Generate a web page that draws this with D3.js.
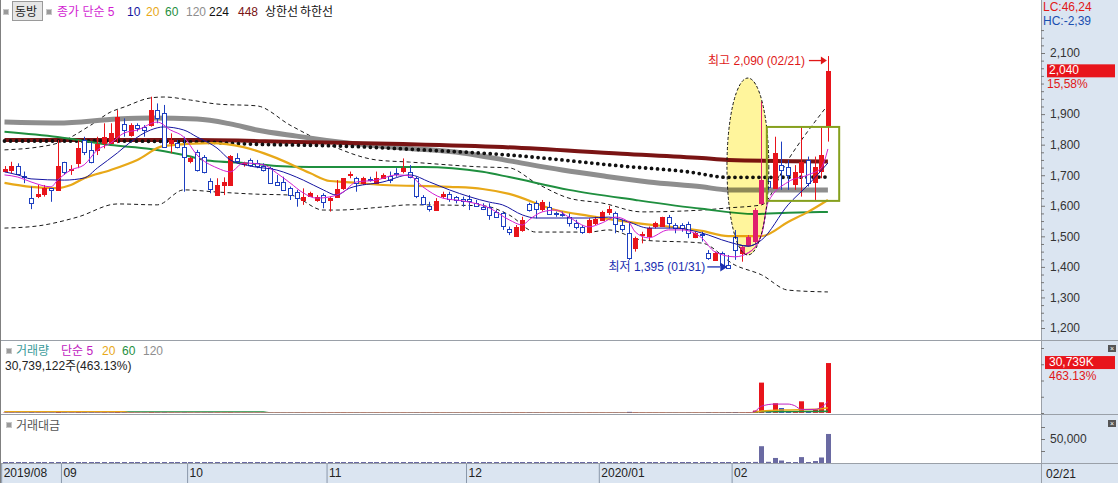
<!DOCTYPE html>
<html><head><meta charset="utf-8">
<script src="https://cdn.jsdelivr.net/npm/d3@7"></script>
<style>
html,body{margin:0;padding:0;background:#fff;overflow:hidden}
svg{display:block;font-family:"Liberation Sans","Noto Sans CJK KR",sans-serif}
</style></head><body><svg id="c" width="1118" height="483"></svg>
<script>
// ---------- DATA ----------
const monthKeys   = ["2019-08","2019-09","2019-10","2019-11","2019-12","2020-01","2020-02"];
const monthLabels = ["2019/08","09","10","11","12","2020/01","02"];
const tradingDays = [
  [20,21,22,23,26,27,28,29,30],
  [2,3,4,5,6,9,10,11,16,17,18,19,20,23,24,25,26,27,30],
  [1,2,4,7,8,10,11,14,15,16,17,18,21,22,23,24,25,28,29,30,31],
  [1,4,5,6,7,8,11,12,13,14,15,18,19,20,21,22,25,26,27,28,29],
  [2,3,4,5,6,9,10,11,12,13,16,17,18,19,20,23,24,26,27,30],
  [2,3,6,7,8,9,10,13,14,15,16,17,20,21,22,23,28,29,30,31],
  [3,4,5,6,7,10,11,12,13,14,17,18,19,20,21]
];
const opens = [1715,1717,1730,1697,1625,1632,1638,1657,1650,
 1742,1718,1739,1815,1783,1780,1805,1805,1826,1867,1832,1864,1859,1864,1913,1903,1805,1805,1793,
 1744,1777,1761,1680,1635,1668,1668,1755,1735,1750,1739,1730,1723,1679,1679,1657,1646,1619,1632,1619,1635,
 1620,1628,1657,1699,1690,1674,1688,1674,1692,1697,1708,1712,1712,1690,1630,1600,1589,1632,1638,1628,1621,
 1621,1610,1597,1597,1581,1575,1523,1501,1521,1606,1610,1589,1597,1575,1574,1564,1543,1530,1515,1543,
 1554,1578,1578,1537,1510,1461,1502,1499,1532,1534,1562,1537,1537,1541,1499,1506,1446,1423,1445,1406,
 1499,1445,1472,1483,1608,1680,1657,1735,1728,1674,1712,1750,1679,1712,1859];
const highs = [1730,1744,1739,1712,1663,1668,1668,1657,1815,
 1744,1733,1815,1826,1810,1826,1870,1870,1913,1886,1870,1870,1864,1957,1935,1930,1837,1815,1826,
 1761,1783,1766,1690,1690,1693,1766,1772,1744,1755,1750,1739,1728,1701,1695,1663,1652,1657,1646,1635,1641,
 1630,1684,1690,1712,1695,1695,1695,1712,1706,1712,1723,1755,1733,1695,1635,1613,1625,1646,1646,1632,1630,
 1635,1619,1608,1608,1586,1581,1532,1537,1564,1610,1617,1619,1613,1581,1581,1575,1554,1537,1559,1564,
 1584,1600,1581,1554,1545,1499,1515,1532,1548,1564,1570,1543,1543,1548,1515,1515,1455,1450,1450,1439,
 1520,1470,1504,1592,1941,1690,1826,1810,1750,1733,1859,1761,1761,1859,2090];
const lows = [1710,1706,1701,1674,1589,1625,1630,1613,1650,
 1701,1701,1723,1766,1739,1766,1788,1805,1805,1826,1826,1843,1826,1859,1870,1793,1772,1788,1646,
 1739,1712,1706,1641,1635,1635,1668,1739,1728,1728,1723,1712,1674,1668,1652,1619,1597,1603,1630,1613,1592,
 1581,1628,1652,1690,1646,1668,1679,1674,1690,1674,1695,1706,1690,1625,1603,1581,1589,1625,1613,1608,1597,
 1586,1597,1586,1554,1564,1521,1504,1499,1515,1581,1559,1581,1570,1564,1564,1532,1523,1508,1510,1537,
 1554,1570,1510,1515,1423,1450,1477,1488,1526,1532,1526,1510,1515,1494,1494,1483,1423,1423,1401,1395,
 1423,1417,1466,1477,1603,1650,1657,1652,1652,1652,1630,1663,1619,1690,1810];
const closes = [1720,1730,1704,1693,1608,1638,1659,1650,1730,
 1708,1722,1788,1777,1744,1801,1826,1837,1892,1848,1864,1854,1848,1913,1886,1793,1815,1793,1761,
 1755,1717,1712,1654,1668,1679,1763,1744,1739,1733,1728,1717,1674,1668,1654,1635,1625,1628,1641,1630,1613,
 1625,1654,1690,1703,1674,1690,1685,1690,1701,1684,1705,1723,1695,1630,1608,1589,1617,1638,1621,1619,1616,
 1613,1600,1589,1570,1564,1532,1512,1530,1554,1586,1589,1613,1575,1572,1572,1543,1530,1515,1554,1556,
 1581,1589,1543,1523,1428,1494,1506,1526,1543,1562,1541,1526,1526,1510,1512,1502,1428,1445,1406,1396,
 1455,1466,1499,1586,1684,1660,1772,1720,1701,1712,1744,1674,1728,1765,2040];
// volume, thousand shares
const volumes = [180,150,160,140,300,200,170,150,600,
 250,200,400,300,250,220,280,260,500,300,200,150,160,450,300,350,200,150,280,
 150,180,170,250,200,180,300,150,120,110,100,120,150,130,120,160,170,140,120,110,140,
 150,180,220,160,140,150,100,130,120,110,100,150,120,200,180,160,200,130,120,100,110,
 120,100,110,150,100,200,180,170,220,250,180,160,140,110,100,130,120,110,170,120,
 150,130,160,140,700,300,200,180,160,200,150,120,110,160,140,130,350,250,300,400,
 500,300,400,1500,18700,1500,6000,3000,1200,800,7200,1200,2400,6600,30739];
// trading value, million won
const amounts = [310,260,270,240,490,330,280,250,1040,
 430,340,710,530,440,400,510,480,940,550,370,280,290,860,560,630,360,270,490,
 260,310,290,410,330,300,530,260,210,190,170,210,250,220,200,260,280,230,200,180,230,
 240,300,370,270,230,250,170,220,200,190,170,260,200,330,290,250,320,210,190,160,180,
 190,160,180,240,160,310,270,260,340,400,290,260,220,170,160,200,180,170,260,190,
 240,210,250,220,1000,450,300,270,250,310,230,180,170,240,210,200,500,360,420,560,
 740,440,600,2300,35000,2500,10500,5200,2100,1400,12300,2100,4100,11500,60500];
// moving averages / bands: [candle index, value]
const ma5   = [[0,1701],[2,1694],[4,1678],[7,1662],[8,1684],[10,1717],[12,1734],[14,1783],[16,1805],[18,1838],[20,1848],[23,1874],[25,1848],[27,1825],[29,1766],[32,1724],[34,1711],[36,1740],[39,1734],[41,1707],[43,1675],[45,1642],[47,1625],[49,1629],[51,1645],[53,1678],[56,1684],[59,1701],[61,1698],[63,1662],[66,1625],[69,1616],[73,1593],[76,1554],[78,1537],[79,1554],[81,1580],[83,1586],[85,1563],[88,1531],[90,1544],[92,1563],[94,1547],[95,1514],[97,1495],[100,1521],[102,1521],[105,1495],[107,1449],[110,1433],[112,1446],[114,1504],[115,1612],[118,1678],[121,1701],[123,1724],[124,1786]];
const ma10  = [[0,1711],[2,1701],[4,1688],[9,1684],[12,1691],[14,1724],[17,1773],[19,1809],[22,1848],[24,1858],[27,1848],[29,1825],[32,1789],[34,1750],[37,1730],[41,1717],[45,1684],[48,1652],[50,1635],[52,1658],[57,1678],[61,1701],[64,1678],[67,1652],[73,1612],[75,1603],[78,1570],[80,1560],[88,1560],[91,1563],[94,1547],[97,1527],[101,1527],[105,1511],[109,1482],[112,1468],[114,1488],[118,1603],[121,1668],[124,1740]];
const ma20  = [[0,1675],[4,1662],[8,1658],[10,1668],[12,1690],[16,1717],[20,1750],[24,1796],[31,1805],[36,1792],[41,1756],[46,1707],[49,1681],[51,1678],[57,1668],[67,1662],[72,1655],[76,1639],[83,1586],[88,1567],[95,1544],[105,1518],[109,1501],[114,1501],[118,1547],[121,1580],[124,1619]];
const ma60  = [[0,1842],[8,1825],[16,1799],[22,1786],[27,1766],[31,1747],[36,1740],[41,1730],[46,1727],[51,1727],[57,1727],[63,1727],[72,1711],[76,1694],[85,1652],[95,1619],[105,1590],[113,1573],[118,1577],[124,1580]];
const ma120 = [[0,1874],[8,1871],[17,1884],[22,1887],[29,1884],[34,1868],[38,1848],[44,1828],[52,1805],[60,1789],[69,1773],[76,1747],[84,1717],[90,1698],[97,1678],[105,1662],[109,1652],[124,1652]];
const ma224 = [[0,1812],[14,1812],[29,1809],[37,1802],[50,1796],[63,1783],[76,1766],[93,1730],[103,1711],[109,1693],[124,1694]];
const ma448 = [[0,1815],[29,1815],[44,1809],[60,1802],[75,1792],[93,1770],[105,1756],[109,1750],[124,1745]];
const upperBand = [[0,1783],[5,1792],[8,1805],[13,1864],[16,1907],[18,1923],[22,1953],[24,1956],[28,1946],[32,1933],[38,1927],[43,1864],[49,1799],[56,1750],[61,1743],[72,1727],[76,1724],[80,1675],[85,1625],[90,1609],[96,1580],[105,1586],[109,1593],[114,1603],[118,1750],[124,1930]];
const lowerBand = [[0,1527],[5,1534],[11,1563],[17,1606],[23,1603],[27,1652],[32,1645],[38,1638],[43,1635],[48,1586],[50,1586],[57,1596],[61,1603],[72,1600],[76,1570],[80,1514],[88,1514],[91,1521],[96,1488],[105,1478],[110,1406],[114,1374],[118,1324],[124,1318]];
const volMa5   = [[0,0],[112,0],[113,1000],[114,4200],[116,5500],[118,5500],[119,4500],[120,2200],[122,2200],[123,3500],[124,7000]];
const volMa20  = [[0,700],[18,700],[19,0],[112,0],[113,300],[114,1200],[118,1900],[122,2300],[124,3300]];
const volMa60  = [[0,550],[39,550],[40,0],[112,0],[113,400],[114,700],[120,900],[124,1100]];
const volMa120 = [[0,0],[124,0]];
const priceTicks = [1200,1300,1400,1500,1600,1700,1800,1900,2100];

// ---------- BUILD ----------
const dates = [];
monthKeys.forEach((m,k)=>tradingDays[k].forEach(d=>dates.push(m+"-"+String(d).padStart(2,"0"))));
const monthStarts = monthKeys.map((m,k)=>m+"-"+String(tradingDays[k][0]).padStart(2,"0"));

const W=1118,H=483,AX=1041;
const UP="#e8141b", DN="#1d3fc0", PINK="#e0206e";
const svg=d3.select("#c");
const x=d3.scalePoint().domain(dates).range([4.5,827.9]);
const xi=i=>x.range()[0]+i*x.step();
const yP=d3.scaleLinear().domain([1200,2100]).range([328,53]);
const yV=d3.scaleLinear().domain([0,40000]).range([413,348]);
const yA=d3.scaleLinear().domain([0,50000]).range([463,439]);

svg.append("rect").attr("width",W).attr("height",H).attr("fill","#fff");
svg.append("rect").attr("x",AX).attr("y",0).attr("width",W-AX).attr("height",H).attr("fill","#dbe5f1");
svg.append("rect").attr("x",0).attr("y",464).attr("width",W).attr("height",H-464).attr("fill","#dbe5f1");

// highlight ellipse (data coordinates)
const ell={i0:108.8,i1:115.1,p0:1439,p1:2018};
const ex=(xi(ell.i0)+xi(ell.i1))/2, ey=(yP(ell.p0)+yP(ell.p1))/2;
const erx=(xi(ell.i1)-xi(ell.i0))/2, ery=(yP(ell.p0)-yP(ell.p1))/2;

const defs=svg.append("defs");
defs.append("clipPath").attr("id","cp").append("rect").attr("x",1).attr("y",22).attr("width",AX-1).attr("height",318);
defs.append("clipPath").attr("id","cv").append("rect").attr("x",1).attr("y",342).attr("width",AX-1).attr("height",72);
defs.append("clipPath").attr("id","cvl").append("rect").attr("x",1).attr("y",342).attr("width",AX-1).attr("height",70.4);
defs.append("clipPath").attr("id","ca").append("rect").attr("x",1).attr("y",415).attr("width",AX-1).attr("height",48);
defs.append("clipPath").attr("id","ce").append("ellipse").attr("cx",ex).attr("cy",ey).attr("rx",erx).attr("ry",ery);

const gP=svg.append("g").attr("clip-path","url(#cp)");
const lineP=d3.line().x(d=>xi(d[0])).y(d=>yP(d[1])).curve(d3.curveMonotoneX);
function drawLine(g,data,gen,color,w,extra){
  const p=g.append("path").datum(data).attr("d",gen).attr("fill","none").attr("stroke",color).attr("stroke-width",w);
  if(extra) extra(p);
  return p;
}
drawLine(gP,upperBand,lineP,"#1a1a1a",1,p=>p.attr("stroke-dasharray","4,3"));
drawLine(gP,lowerBand,lineP,"#1a1a1a",1,p=>p.attr("stroke-dasharray","4,3"));
drawLine(gP,ma120,lineP,"#8e8e8e",5);
drawLine(gP,ma448,lineP,"#7a1414",4);
drawLine(gP,ma224,lineP,"#111",3.8,p=>p.attr("stroke-dasharray","0,6").attr("stroke-linecap","round"));
drawLine(gP,ma60,lineP,"#1f8f3f",2);
drawLine(gP,ma20,lineP,"#e8a818",2.2);

// candles
const cd=dates.map((d,i)=>({d,o:opens[i],h:highs[i],l:lows[i],c:closes[i]}));
const cx=d=>Math.round(x(d.d));
function drawCandles(g,upColor){
  g.append("g").selectAll("line").data(cd).join("line")
    .attr("x1",d=>cx(d)+0.5).attr("x2",d=>cx(d)+0.5)
    .attr("y1",d=>yP(d.h)).attr("y2",d=>yP(d.l))
    .attr("stroke",d=>d.c>=d.o?upColor:DN).attr("stroke-width",1);
  g.append("g").selectAll("rect").data(cd).join("rect")
    .attr("x",d=>cx(d)-2+0.5).attr("width",4)
    .attr("y",d=>Math.round(yP(Math.max(d.o,d.c)))+0.5)
    .attr("height",d=>Math.max(1,Math.round(Math.abs(yP(d.o)-yP(d.c)))))
    .attr("fill",d=>d.c>=d.o?upColor:"#fff").attr("stroke",d=>d.c>=d.o?upColor:DN).attr("stroke-width",1);
}
drawCandles(gP,UP);
drawLine(gP,ma10,lineP,"#1414a0",1);
drawLine(gP,ma5,lineP,"#d21ed2",1);

gP.append("ellipse").attr("cx",ex).attr("cy",ey).attr("rx",erx).attr("ry",ery)
  .attr("fill","#fff59c").style("mix-blend-mode","multiply");
// candles seen through the highlight take a pink tint
const gE=gP.append("g").attr("clip-path","url(#ce)");
drawCandles(gE,PINK);
drawLine(gE,ma10,lineP,"#1414a0",1);
drawLine(gE,ma5,lineP,"#d21ed2",1);
gP.append("ellipse").attr("cx",ex).attr("cy",ey).attr("rx",erx).attr("ry",ery)
  .attr("fill","none").attr("stroke","#111").attr("stroke-width",1).attr("stroke-dasharray","3,2");
// box
const box={i0:114.8,i1:125.7,p0:1616,p1:1858};
gP.append("rect").attr("x",xi(box.i0)).attr("y",yP(box.p1)).attr("width",xi(box.i1)-xi(box.i0)).attr("height",yP(box.p0)-yP(box.p1))
  .attr("fill","none").attr("stroke","#86a01e").attr("stroke-width",2);

// high / low annotations
const hiI=d3.maxIndex(highs), loI=d3.minIndex(lows);
const fmt=d3.format(",");
const md=s=>s.slice(5,7)+"/"+s.slice(8,10);
const hx=xi(hiI), hy=yP(highs[hiI]);
svg.append("text").attr("x",hx-23).attr("y",hy+9).attr("text-anchor","end").attr("fill","#e01818").attr("font-size",12)
  .text(`최고 ${fmt(highs[hiI])} (${md(dates[hiI])})`);
svg.append("line").attr("x1",hx-19).attr("x2",hx-6).attr("y1",hy+4.5).attr("y2",hy+4.5).attr("stroke","#e01818").attr("stroke-width",1.3);
svg.append("path").attr("d",`M${hx-1},${hy+4.5} L${hx-7},${hy+0.5} L${hx-7},${hy+8.5} Z`).attr("fill","#e01818");
const lx=xi(loI), ly=yP(lows[loI]);
svg.append("text").attr("x",lx-23).attr("y",ly+3).attr("text-anchor","end").attr("fill","#1a2fb0").attr("font-size",12)
  .text(`최저 ${fmt(lows[loI])} (${md(dates[loI])})`);
svg.append("line").attr("x1",lx-21).attr("x2",lx-8).attr("y1",ly-1.5).attr("y2",ly-1.5).attr("stroke","#1a2fb0").attr("stroke-width",1.3);
svg.append("path").attr("d",`M${lx-1},${ly-1.5} L${lx-8},${ly-6} L${lx-8},${ly+3} Z`).attr("fill","#1a2fb0");

// ---------- VOLUME ----------
const gV=svg.append("g").attr("clip-path","url(#cv)");
gV.selectAll("rect").data(dates).join("rect")
  .attr("x",d=>Math.round(x(d))-2).attr("width",5)
  .attr("y",(d,i)=>yV(volumes[i])).attr("height",(d,i)=>yV(0)-yV(volumes[i]))
  .attr("fill",(d,i)=>closes[i]>=opens[i]?UP:DN);
const gVL=svg.append("g").attr("clip-path","url(#cvl)");
const lineV=d3.line().x(d=>xi(d[0])).y(d=>yV(d[1])).curve(d3.curveMonotoneX);
drawLine(gVL,volMa120,lineV,"#8e8e8e",1.5);
drawLine(gVL,volMa60,lineV,"#1f8f3f",1.5);
drawLine(gVL,volMa20,lineV,"#e8a818",1.5);
drawLine(gVL,volMa5,lineV,"#c020c0",1);

// ---------- AMOUNT ----------
const gA=svg.append("g").attr("clip-path","url(#ca)");
gA.selectAll("rect").data(dates).join("rect")
  .attr("x",d=>Math.round(x(d))-2).attr("width",5)
  .attr("y",(d,i)=>Math.min(yA(amounts[i]),yA(0)-1)).attr("height",(d,i)=>Math.max(1,yA(0)-yA(amounts[i])))
  .attr("fill","#6a6aa2");

// ---------- FRAME ----------
const frame="#9aa0a8";
[340.5,414.5,463.5].forEach(yy=>svg.append("line").attr("x1",0).attr("x2",W).attr("y1",yy).attr("y2",yy).attr("stroke",frame));
svg.append("line").attr("x1",0.5).attr("x2",0.5).attr("y1",0).attr("y2",H).attr("stroke","#808080");
svg.append("line").attr("x1",AX+0.5).attr("x2",AX+0.5).attr("y1",0).attr("y2",H).attr("stroke",frame);

// ---------- AXES ----------
const axStyle=g=>{g.select(".domain").remove();g.selectAll(".tick line").attr("stroke","#777");g.selectAll("text").attr("fill","#333").attr("font-size",12).attr("font-family","'Liberation Sans',sans-serif");};
const minor=d3.range(1200,2200,25).filter(v=>!priceTicks.includes(v) && yP(v)>28);
svg.append("g").attr("transform",`translate(${AX},0)`).call(d3.axisRight(yP).tickValues(minor).tickFormat("").tickSize(3)).call(axStyle);
svg.append("g").attr("transform",`translate(${AX},0)`).call(d3.axisRight(yP).tickValues(priceTicks).tickFormat(fmt).tickSize(4).tickPadding(5)).call(axStyle);
svg.append("g").attr("transform",`translate(${AX},0)`).call(d3.axisRight(yV).tickValues([0,10000,20000,30000,40000]).tickFormat("").tickSize(3)).call(axStyle);
svg.append("g").attr("transform",`translate(${AX},0)`).call(d3.axisRight(yA).tickValues([25000,50000,75000]).tickFormat(d=>d===50000?fmt(d):"").tickSize(4).tickPadding(5)).call(axStyle);

const gx=svg.append("g").attr("transform","translate(0,464)")
  .call(d3.axisBottom(x).tickValues(monthStarts).tickFormat((d,i)=>monthLabels[i]).tickSize(19).tickSizeOuter(0));
gx.select(".domain").remove();
gx.selectAll(".tick line").attr("transform",`translate(${-x.step()/2},0)`).attr("stroke","#8a98aa");
gx.selectAll(".tick text").attr("text-anchor","start").attr("x",-x.step()/2+2).attr("y",4.5)
  .attr("fill","#222").attr("font-size",12).attr("font-family","'Liberation Sans',sans-serif");
svg.append("text").attr("x",AX+5).attr("y",478).attr("font-size",12).attr("fill","#222").text(md(dates[dates.length-1]));

// ---------- RIGHT LABELS ----------
const last=closes.length-1, prev=closes[last-1];
svg.append("text").attr("x",AX+2).attr("y",11).attr("font-size",12).attr("fill","#e01818").text("LC:46,24");
svg.append("text").attr("x",AX+2).attr("y",24.5).attr("font-size",12).attr("fill","#1a4fb0").text("HC:-2,39");
const yl=yP(closes[last]);
svg.append("rect").attr("x",AX+6).attr("y",yl-7).attr("width",68).attr("height",13).attr("fill","#e8141b");
svg.append("text").attr("x",AX+8).attr("y",yl+3).attr("font-size",12).attr("fill","#fff").text(fmt(closes[last]));
svg.append("text").attr("x",AX+6).attr("y",yl+16.8).attr("font-size",12).attr("fill","#e01818")
  .text(((closes[last]/prev-1)*100).toFixed(2).replace(".",",")+"%");
const yvl=yV(volumes[last]);
svg.append("rect").attr("x",AX+4).attr("y",yvl-7).attr("width",70).attr("height",13).attr("fill","#e8141b");
svg.append("text").attr("x",AX+8).attr("y",yvl+3).attr("font-size",12).attr("fill","#fff").text(fmt(volumes[last])+"K");
svg.append("text").attr("x",AX+8).attr("y",yvl+17).attr("font-size",12).attr("fill","#e01818").text("463.13%");
[345,420].forEach(yy=>{
  svg.append("rect").attr("x",1108).attr("y",yy).attr("width",8).attr("height",7).attr("fill","#555");
  svg.append("text").attr("x",1112).attr("y",yy+6).attr("text-anchor","middle").attr("font-size",7).attr("fill","#fff").text("×");
});

// ---------- LEGENDS ----------
const sq=(xx,yy)=>svg.append("rect").attr("x",xx+0.5).attr("y",yy+0.5).attr("width",5).attr("height",5).attr("fill","#9a9a9a").attr("stroke","#c8c8c8");
sq(3,9);
svg.append("rect").attr("x",12.5).attr("y",1.5).attr("width",30).attr("height",19).attr("fill","#e6e6e6").attr("stroke","#9a9a9a");
svg.append("text").attr("x",15).attr("y",16).attr("font-size",12).attr("fill","#222").text("동방");
sq(46,9);
const leg=[["종가 단순 5","#d21ed2",57],["10","#1414a0",127],["20","#e8a818",146],["60","#1f8f3f",165],["120","#8e8e8e",186],["224","#111",209],["448","#7a1414",238],["상한선","#111",265],["하한선","#111",300]];
leg.forEach(([t,c,xx])=>svg.append("text").attr("x",xx).attr("y",16).attr("font-size",12).attr("fill",c).text(t));
sq(6,348);
[["거래량","#3a9a9a",16],["단순 5","#c020c0",61],["20","#e8a818",102],["60","#1f8f3f",122],["120","#8e8e8e",143]]
  .forEach(([t,c,xx])=>svg.append("text").attr("x",xx).attr("y",355).attr("font-size",12).attr("fill",c).text(t));
svg.append("text").attr("x",5).attr("y",370).attr("font-size",12).attr("fill","#222").text("30,739,122주(463.13%)");
sq(6,422);
svg.append("text").attr("x",16).attr("y",430).attr("font-size",12).attr("fill","#555").text("거래대금");
</script></body></html>
